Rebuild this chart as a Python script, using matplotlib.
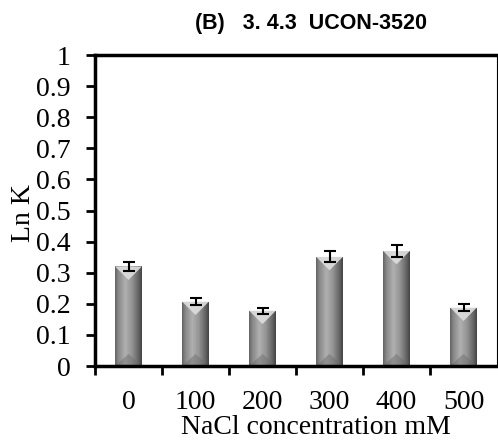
import numpy as np
import matplotlib
matplotlib.use("Agg")
import matplotlib.pyplot as plt
from matplotlib.colors import LinearSegmentedColormap
from matplotlib.patches import Polygon

categories = ["0", "100", "200", "300", "400", "500"]
ln_k = [0.32, 0.207, 0.178, 0.351, 0.370, 0.188]
ln_k_err = [0.016, 0.011, 0.010, 0.018, 0.019, 0.011]
y_ticks = [0, 0.1, 0.2, 0.3, 0.4, 0.5, 0.6, 0.7, 0.8, 0.9, 1]
y_tick_labels = ["0", "0.1", "0.2", "0.3", "0.4", "0.5", "0.6", "0.7", "0.8", "0.9", "1"]

fig = plt.figure(figsize=(4.98, 4.40), dpi=100)
W, H = 498, 440
ax = fig.add_axes([95 / W, 1 - 366 / H, (497 - 95) / W, (366 - 55) / H])

x = np.arange(len(categories)) + 0.5
bar_w = 0.4
bars = ax.bar(x, ln_k, width=bar_w, color="#8f8f8f", edgecolor="none", zorder=2)

# horizontal shading across each bar (cylinder look)
shade = LinearSegmentedColormap.from_list(
    "shade",
    [(0.0, "#646464"), (0.12, "#888888"), (0.38, "#b0b0b0"),
     (0.62, "#969696"), (0.85, "#6a6a6a"), (1.0, "#454545")])
grad = np.linspace(0, 1, 64).reshape(1, -1)

ppu = 310.0  # pixels per y-unit
xpu = 402.0 / 6  # pixels per x-unit
for rect, v in zip(bars, ln_k):
    x0 = rect.get_x()
    x1 = x0 + rect.get_width()
    im = ax.imshow(grad, cmap=shade, extent=[x0, x1, 0, v], aspect="auto",
                   origin="lower", zorder=2.1, interpolation="bilinear")
    im.set_clip_path(rect)
    # bevel: light wedge at the top, darker wedge at the base
    half_px = rect.get_width() * xpu / 2
    d = half_px / ppu
    xc = (x0 + x1) / 2
    ax.add_patch(Polygon([[x0, v], [x1, v], [xc, v - d]], closed=True,
                         facecolor="#dedede", edgecolor="none", alpha=0.9, zorder=2.2))
    ax.add_patch(Polygon([[x0, 0], [x1, 0], [xc, d * 0.9]], closed=True,
                         facecolor="#6a6a6a", edgecolor="none", alpha=0.45, zorder=2.2))

ax.errorbar(x, ln_k, yerr=ln_k_err, fmt="none", ecolor="black",
            elinewidth=1.5, capsize=4.3, capthick=1.5, zorder=3)

ax.set_xlim(0, len(categories))
ax.set_ylim(0, 1)
ax.set_yticks(y_ticks)
ax.set_yticklabels(y_tick_labels)
ax.set_xticks(np.arange(len(categories)))
ax.set_xticklabels([])
ax.set_xticks(x, minor=True)
ax.set_xticklabels(categories, minor=True)

for lab in ax.get_yticklabels() + ax.get_xticklabels(minor=True):
    lab.set_fontfamily("Liberation Serif")
    lab.set_fontsize(20)

ax.tick_params(axis="y", which="major", direction="out", length=6.5, width=2, pad=11)
ax.tick_params(axis="x", which="major", direction="out", length=6.5, width=2)
ax.tick_params(axis="x", which="minor", length=0, pad=17)

ax.spines["left"].set_linewidth(2.5)
ax.spines["bottom"].set_linewidth(2.5)
ax.spines["top"].set_linewidth(2.5)
ax.spines["right"].set_linewidth(0.8)

ax.set_ylabel("Ln K", fontfamily="Liberation Serif", fontsize=20, va="center", ha="center")
ax.set_xlabel("NaCl concentration mM", fontfamily="Liberation Serif", fontsize=20,
              va="center", ha="center")
ax.xaxis.set_label_coords((316 - 95) / 402, -(428 - 366) / 311)
ax.yaxis.set_label_coords(-(95 - 23) / 402, (366 - 213) / 311)

fig.text(311 / W, 1 - 24 / H, "(B)   3. 4.3  UCON-3520", ha="center", va="center",
         fontfamily="Liberation Sans", fontweight="bold", fontsize=15.5)

fig.savefig("out.png", dpi=100)
